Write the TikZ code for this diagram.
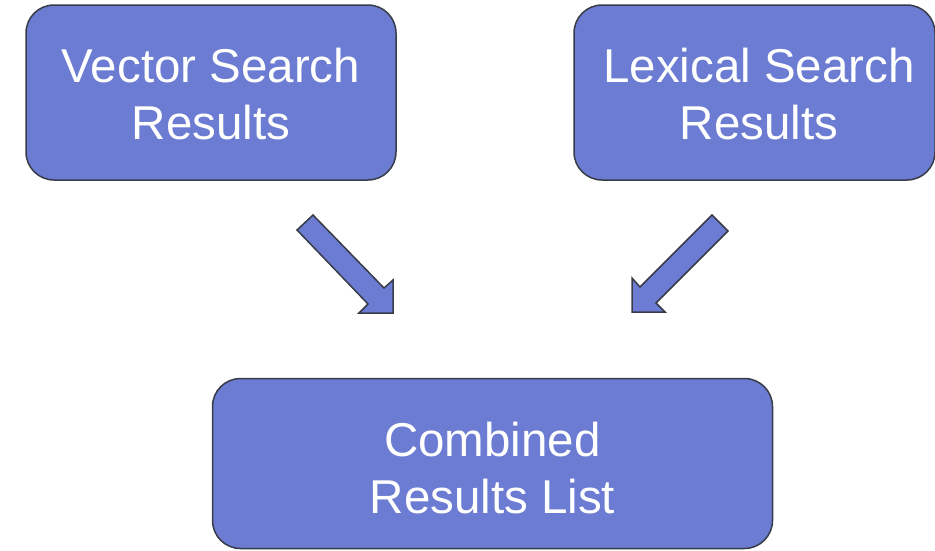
\documentclass[tikz,border=0pt]{standalone}
\usepackage{fontspec}
\setmainfont{Liberation Sans}
\definecolor{boxfill}{RGB}{107,124,210}
\definecolor{boxline}{RGB}{56,60,72}
\tikzset{
  panel/.style={draw=boxline, fill=boxfill, line width=1.5pt,
    rounded corners=28pt, inner sep=0pt},
  paneltext/.style={text=white, align=center, inner sep=0pt,
    font=\fontsize{47.5}{57}\selectfont},
  blockarrow/.style={draw=boxline, fill=boxfill, line width=1.5pt,
    line join=miter}
}
\begin{document}
\begin{tikzpicture}[x=1pt, y=-1pt]
  \useasboundingbox (0,0) rectangle (935,550);

  % result panels
  \node (vec) [panel, minimum width=370pt, minimum height=175pt] at (211,92.5) {};
  \node (lex) [panel, minimum width=361pt, minimum height=175pt] at (754.5,92.5) {};
  \node (comb) [panel, minimum width=560pt, minimum height=170pt] at (492.5,463.5) {};

  \node (vectxt) [paneltext] at (211,94) {Vector Search\\Results};
  \node (lextxt) [paneltext] at (759,94) {Lexical Search\\Results};
  \node (combtxt) [paneltext] at (492.5,468) {Combined\\Results List};

  % block arrow from the vector panel towards the combined list
  \coordinate (la1) at (313,215);
  \coordinate (la2) at (384,288);
  \coordinate (la3) at (393,280);
  \coordinate (la4) at (393,313);
  \coordinate (la5) at (359,313);
  \coordinate (la6) at (368,304);
  \coordinate (la7) at (297,230);
  \draw[blockarrow] (la1) -- (la2) -- (la3) -- (la4) -- (la5) -- (la6) -- (la7) -- cycle;

  % block arrow from the lexical panel towards the combined list
  \coordinate (ra1) at (712,215);
  \coordinate (ra2) at (728,231);
  \coordinate (ra3) at (656,303);
  \coordinate (ra4) at (665,312);
  \coordinate (ra5) at (632,312);
  \coordinate (ra6) at (632,278);
  \coordinate (ra7) at (640,287);
  \draw[blockarrow] (ra1) -- (ra2) -- (ra3) -- (ra4) -- (ra5) -- (ra6) -- (ra7) -- cycle;
\end{tikzpicture}
\end{document}
